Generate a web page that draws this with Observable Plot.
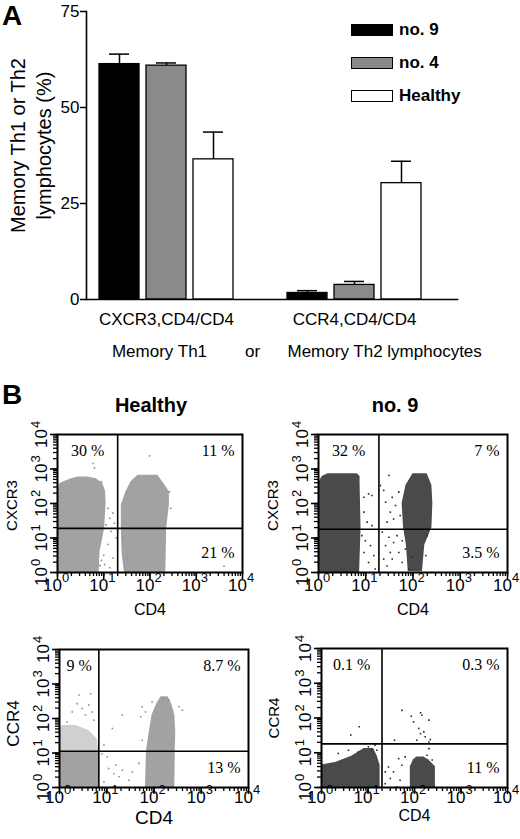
<!DOCTYPE html>
<html>
<head>
<meta charset="utf-8">
<script src="https://cdn.jsdelivr.net/npm/d3@7"></script>
<script src="https://cdn.jsdelivr.net/npm/@observablehq/plot@0.6"></script>
<style>
  body { margin: 0; background: #fff; font-family: Arial, "Liberation Sans", Helvetica, sans-serif; }
  #fig { position: relative; width: 520px; height: 839px; overflow: hidden; }
  .tag { font-weight: bold; font-size: 28px; line-height: 32px; }
  .legend { width: 150px; height: 90px; }
  .legend-row { position: absolute; left: 0; display: flex; align-items: center; height: 14px; white-space: nowrap; }
  .legend-row .sw { width: 40px; height: 10px; border: 1.5px solid #000; flex: none; }
  .legend-row span { margin-left: 6px; font-weight: bold; font-size: 17px; }
</style>
</head>
<body>
<div id="fig"></div>
<script>
// ---- panel A : bar chart ----
const series = ["no. 9", "no. 4", "Healthy"];
const seriesColors = ["#000000", "#8a8a8a", "#ffffff"];
const groups = ["CXCR3,CD4/CD4", "CCR4,CD4/CD4"];
const meanNo9 = [61.3, 1.7];
const meanNo4 = [60.9, 3.8];
const meanHealthy = [36.5, 30.3];
const semNo9 = [2.6, 0.6];
const semNo4 = [0.7, 0.9];
const semHealthy = [7.1, 5.7];
const yTicks = [0, 25, 50, 75];
const yTitle = "Memory Th1 or Th2\nlymphocytes (%)";
const subGroupText = ["Memory Th1", "or", "Memory Th2 lymphocytes"];

// ---- panel B : cytograms (log10 units) ----
const decades = [0, 1, 2, 3, 4];
const cytoTitles = ["Healthy", "no. 9"];
const cytoMarkers = ["CXCR3", "CXCR3", "CCR4", "CCR4"];
const cytoAxisX = "CD4";
const healthyCxcr3Pct = ["30 %", "11 %", "21 %"];
const no9Cxcr3Pct = ["32 %", "7 %", "3.5 %"];
const healthyCcr4Pct = ["9 %", "8.7 %", "13 %"];
const no9Ccr4Pct = ["0.1 %", "0.3 %", "11 %"];
const cytoGateCd4 = [20, 19, 6.8, 20];
const cytoGateMarker = [19, 18, 11.2, 18];

// clouds: [id, y, xLeft, xRight]
const healthyCxcr3Clouds = [
  ["L", 0, 0, 0.9], ["L", 0.6, 0, 0.92], ["L", 1.0, 0, 0.98], ["L", 1.3, 0, 1.02], ["L", 2.0, 0, 1.05],
  ["L", 2.35, 0, 1.04], ["L", 2.58, 0.05, 0.98], ["L", 2.72, 0.3, 0.84], ["L", 2.77, 0.45, 0.65],
  ["R", 0, 1.45, 2.34], ["R", 0.5, 1.4, 2.35], ["R", 1.27, 1.38, 2.36], ["R", 1.96, 1.38, 2.42],
  ["R", 2.34, 1.48, 2.42], ["R", 2.63, 1.59, 2.27], ["R", 2.82, 1.74, 2.17]
];
const no9Cxcr3Clouds = [
  ["L", 0, 0, 0.87], ["L", 1.26, 0, 0.9], ["L", 2.6, 0, 0.88], ["L", 2.78, 0.08, 0.88], ["L", 2.86, 0.2, 0.82],
  ["R", 0.02, 1.9, 2.2], ["R", 0.8, 1.86, 2.25], ["R", 1.3, 1.8, 2.4], ["R", 2.0, 1.77, 2.42],
  ["R", 2.52, 1.85, 2.4], ["R", 2.86, 2.0, 2.3]
];
const healthyCcr4Clouds = [
  ["L", 0, 0, 0.83], ["L", 1.05, 0, 0.83],
  ["R", 0, 1.82, 2.44], ["R", 1.05, 1.84, 2.45], ["R", 1.6, 1.9, 2.46], ["R", 2.1, 1.96, 2.44],
  ["R", 2.4, 2.05, 2.38], ["R", 2.63, 2.15, 2.3]
];
const healthyCcr4Haze = [["U", 1.05, 0, 0.83], ["U", 1.4, 0, 0.8], ["U", 1.65, 0, 0.62], ["U", 1.8, 0.05, 0.35]];
const no9Ccr4Clouds = [
  ["L", 0, 0, 1.26], ["L", 0.65, 0, 1.26], ["L", 0.72, 0.3, 1.24], ["L", 0.9, 0.65, 1.2], ["L", 1.12, 0.92, 1.12],
  ["R", 0, 1.91, 2.45], ["R", 0.6, 1.91, 2.45], ["R", 0.8, 1.98, 2.3], ["R", 0.88, 2.05, 2.2]
];

// single events: [x, y]
const healthyCxcr3Dots = [
  [1.09, 1.86], [1.2, 1.72], [1.13, 1.57], [1.23, 1.43], [1.05, 1.38], [1.16, 1.19], [1.27, 1.0], [1.09, 0.81],
  [1.2, 0.42], [1.13, 0.14], [1.02, 0.23], [0.77, 3.16], [0.8, 3.03], [1.99, 3.38], [3.6, 0.18], [2.42, 2.34],
  [2.45, 1.86], [1.41, 1.0], [1.52, 0.42], [1.45, 0.14], [0.95, 2.63], [0.95, 0.35], [0.92, 0.2], [1.0, 0.5]
];
const no9Cxcr3Dots = [
  [0.96, 2.18], [1.06, 2.28], [1.13, 2.23], [0.96, 1.75], [1.03, 1.46], [1.13, 1.36], [0.92, 1.07], [0.99, 0.92],
  [1.1, 0.78], [0.96, 0.58], [1.17, 0.49], [1.06, 0.29], [1.2, 0.1], [1.31, 2.52], [1.38, 2.38], [1.49, 2.81],
  [1.42, 2.04], [1.56, 2.18], [1.63, 1.94], [1.52, 1.75], [1.7, 2.33], [1.59, 1.55], [1.45, 1.46], [1.73, 1.65],
  [1.35, 1.17], [1.49, 1.02], [1.42, 0.78], [1.59, 0.87], [1.7, 0.58], [1.56, 0.39], [1.45, 0.19], [1.77, 0.29],
  [1.84, 0.68], [1.66, 1.07], [1.98, 0.44], [1.91, 0.1], [1.77, 0.92], [1.52, 0.58], [1.38, 0.39], [2.3, 1.07],
  [2.27, 0.49]
];
const healthyCcr4Dots = [
  [0.41, 2.68], [0.37, 2.43], [0.48, 2.29], [0.62, 2.39], [0.69, 2.19], [0.27, 2.19], [0.55, 2.1], [0.16, 1.9],
  [0.73, 1.95], [0.66, 2.72], [0.9, 0.98], [1.01, 0.89], [1.19, 0.65], [1.33, 0.5], [1.15, 0.4], [1.26, 0.31],
  [1.54, 0.45], [1.47, 0.21], [1.04, 0.55], [1.68, 0.7], [0.94, 0.16], [1.12, 1.71], [1.33, 2.1], [1.75, 2.34],
  [1.75, 1.37], [1.82, 2.19], [1.96, 2.48], [2.18, 2.58], [2.32, 2.53], [2.53, 2.34], [2.6, 2.24], [1.72, 2.05],
  [0.94, 1.23]
];
const no9Ccr4Dots = [
  [1.73, 2.22], [1.93, 2.05], [2.13, 2.15], [2.16, 2.08], [2.31, 1.94], [1.98, 1.89], [2.09, 1.7], [2.2, 1.6],
  [2.13, 1.55], [2.23, 1.46], [2.05, 1.36], [2.34, 1.38], [1.57, 1.36], [2.31, 1.31], [0.81, 1.75], [0.63, 1.51],
  [1.44, 0.59], [1.55, 0.45], [1.66, 0.83], [1.73, 0.64], [1.48, 0.26], [1.69, 0.21], [1.37, 0.11], [1.8, 0.88],
  [1.37, 0.45], [1.62, 0.02], [1.08, 1.07], [1.01, 1.17], [0.58, 1.07], [0.36, 0.98], [0.79, 1.02], [1.19, 1.07],
  [1.15, 1.22], [2.31, 1.12], [2.27, 0.93], [2.38, 0.79]
];

const sans = "Arial, 'Liberation Sans', Helvetica, sans-serif";
const serif = "'Times New Roman', 'Liberation Serif', Times, serif";
const fig = document.getElementById("fig");

function place(el, left, top) {
  el.style.position = "absolute";
  el.style.left = left + "px";
  el.style.top = top + "px";
  fig.appendChild(el);
  return el;
}

// ---------- panel A ----------
const means = [meanNo9, meanNo4, meanHealthy];
const sems = [semNo9, semNo4, semHealthy];
const rows = groups.flatMap((g, i) => series.map((s, j) => ({
  key: g + "|" + s, group: g, series: s, value: means[j][i], err: sems[j][i]
})));
const xDomain = [...rows.slice(0, 3).map(d => d.key), "gap", ...rows.slice(3).map(d => d.key)];

const chartA = Plot.plot({
  width: 520,
  height: 370,
  marginTop: 11,
  marginRight: 63,
  marginBottom: 71,
  marginLeft: 86,
  style: {background: "none", fontFamily: sans, color: "black", overflow: "visible"},
  x: {domain: xDomain, range: [99, 421], paddingInner: 0.149, paddingOuter: 0, axis: null},
  y: {domain: [0, 75], axis: null},
  color: {domain: series, range: seriesColors},
  marks: [
    Plot.barY(rows, {x: "key", y: "value", fill: "series", stroke: "black", strokeWidth: 1.3}),
    Plot.ruleX(rows, {x: "key", y1: "value", y2: d => d.value + d.err, strokeWidth: 1.5}),
    Plot.tickY(rows, {x: "key", y: d => d.value + d.err, inset: 10, strokeWidth: 1.5}),
    Plot.axisY({ticks: yTicks, tickSize: 6, tickPadding: 1, fontSize: 17, label: null, strokeWidth: 1.5}),
    Plot.frame({anchor: "left", strokeWidth: 1.6}),
    Plot.frame({anchor: "bottom", strokeWidth: 1.6}),
    Plot.text([yTitle], {frameAnchor: "left", rotate: -90, dx: -57, dy: -10, fontSize: 20, lineHeight: 1.3,
      textAnchor: "middle", lineAnchor: "middle", text: d => d}),
    Plot.text(groups, {x: g => g + "|no. 4", y: 0, dy: 20, fontSize: 17, lineAnchor: "middle", text: d => d}),
    Plot.text([subGroupText[0]], {x: () => groups[0] + "|no. 4", y: 0, dx: -7, dy: 52, fontSize: 17, lineAnchor: "middle", text: d => d}),
    Plot.text([subGroupText[1]], {x: () => "gap", y: 0, dx: -8, dy: 52, fontSize: 17, lineAnchor: "middle", text: d => d}),
    Plot.text([subGroupText[2]], {x: () => groups[1] + "|no. 9", y: 0, dx: -20, dy: 52, fontSize: 17, lineAnchor: "middle",
      textAnchor: "start", text: d => d})
  ]
});
place(chartA, 0, 0);

// legend
const legend = document.createElement("div");
legend.className = "legend";
series.forEach((s, i) => {
  const row = document.createElement("div");
  row.className = "legend-row";
  row.style.top = (i * 33) + "px";
  row.innerHTML = `<div class="sw" style="background:${seriesColors[i]}"></div><span>${s}</span>`;
  legend.appendChild(row);
});
place(legend, 351, 23);

const tagA = document.createElement("div");
tagA.className = "tag";
tagA.textContent = "A";
place(tagA, 2, 0);

const tagB = document.createElement("div");
tagB.className = "tag";
tagB.textContent = "B";
place(tagB, 2, 379);

// ---------- panel B ----------
const lin = e => 10 ** e;
const minorTicks = d3.scaleLog().domain([1, 1e4]).ticks();
const majorTicks = decades.map(lin);

function cytogram(o) {
  const t = {fontFamily: sans, lineAnchor: "middle"};
  const pctText = {fontFamily: serif, fontSize: 16, lineAnchor: "middle", text: d => d};
  return Plot.plot({
    width: 260,
    height: o.height,
    marginTop: o.m[0],
    marginRight: o.m[1],
    marginBottom: o.m[2],
    marginLeft: o.m[3],
    style: {background: "none", fontFamily: sans, color: "black", overflow: "visible"},
    x: {type: "log", domain: [1, 1e4], axis: null},
    y: {type: "log", domain: [1, 1e4], axis: null},
    marks: [
      Plot.areaX(o.haze, {y: d => lin(d[1]), x1: d => lin(d[2]), x2: d => lin(d[3]), z: d => d[0], fill: o.ink, fillOpacity: 0.5, clip: true}),
      Plot.areaX(o.clouds, {y: d => lin(d[1]), x1: d => lin(d[2]), x2: d => lin(d[3]), z: d => d[0], fill: o.ink, clip: true}),
      Plot.dot(o.dots, {x: d => lin(d[0]), y: d => lin(d[1]), r: 0.9, symbol: "square", fill: o.dotInk, clip: true}),
      Plot.ruleX([o.gateX], {strokeWidth: 1.6}),
      Plot.ruleY([o.gateY], {strokeWidth: 1.6}),
      Plot.frame({strokeWidth: 2}),
      Plot.axisX({ticks: minorTicks, tickSize: 4, tickFormat: () => "", label: null, strokeWidth: 1.3}),
      Plot.axisX({ticks: majorTicks, tickSize: 7, tickFormat: () => "", label: null, strokeWidth: 1.6}),
      Plot.axisY({ticks: minorTicks, tickSize: 4, tickFormat: () => "", label: null, strokeWidth: 1.3}),
      Plot.axisY({ticks: majorTicks, tickSize: 7, tickFormat: () => "", label: null, strokeWidth: 1.6}),
      Plot.text(decades, {...t, x: d => lin(d), frameAnchor: "bottom", text: () => "10", dx: -5, dy: o.tickDy, fontSize: 17}),
      Plot.text(decades, {...t, x: d => lin(d), frameAnchor: "bottom", text: d => String(d), dx: 8, dy: o.tickDy - 8, fontSize: 13}),
      Plot.text(decades, {...t, y: d => lin(d), frameAnchor: "left", textAnchor: "middle", rotate: -90, text: () => "10", dx: -16, dy: 4, fontSize: 17}),
      Plot.text(decades, {...t, y: d => lin(d), frameAnchor: "left", textAnchor: "middle", rotate: -90, text: d => String(d), dx: -22, dy: -10, fontSize: 13}),
      Plot.text([o.marker], {...t, frameAnchor: "left", textAnchor: "middle", rotate: -90, dx: o.markerDx, dy: o.markerDy, fontSize: o.markerSize, text: d => d}),
      Plot.text([cytoAxisX], {...t, frameAnchor: "bottom", dy: o.cdDy, fontSize: o.cdSize, text: d => d}),
      Plot.text(o.title ? [o.title] : [], {...t, frameAnchor: "top", dx: o.titleDx, dy: -29, fontSize: 20, fontWeight: "bold", text: d => d}),
      Plot.text([o.pct[0]], {...pctText, x: () => Math.sqrt(o.gateX), frameAnchor: "top", dy: 16}),
      Plot.text([o.pct[1]], {...pctText, frameAnchor: "top-right", textAnchor: "end", dx: -8, dy: 16}),
      Plot.text([o.pct[2]], {...pctText, frameAnchor: "bottom-right", textAnchor: "end", dx: -8, dy: -20})
    ]
  });
}

const healthyInk = "#a2a2a2", healthyDot = "#8c8c8c";
const no9Ink = "#4a4a4a", no9Dot = "#2a2a2a";

place(cytogram({
  height: 235, m: [49, 18, 48, 57], title: cytoTitles[0], titleDx: 1,
  clouds: healthyCxcr3Clouds, haze: [], dots: healthyCxcr3Dots, ink: healthyInk, dotInk: healthyDot,
  gateX: cytoGateCd4[0], gateY: cytoGateMarker[0], pct: healthyCxcr3Pct,
  marker: cytoMarkers[0], markerDx: -45, markerDy: 2, markerSize: 15,
  tickDy: 13, cdDy: 37, cdSize: 16
}), 0, 385);

place(cytogram({
  height: 235, m: [49, 13, 48, 58], title: cytoTitles[1], titleDx: -18,
  clouds: no9Cxcr3Clouds, haze: [], dots: no9Cxcr3Dots, ink: no9Ink, dotInk: no9Dot,
  gateX: cytoGateCd4[1], gateY: cytoGateMarker[1], pct: no9Cxcr3Pct,
  marker: cytoMarkers[1], markerDx: -45, markerDy: 2, markerSize: 15,
  tickDy: 13, cdDy: 37, cdSize: 16
}), 260, 385);

place(cytogram({
  height: 219, m: [29, 12, 52, 59],
  clouds: healthyCcr4Clouds, haze: healthyCcr4Haze, dots: healthyCcr4Dots, ink: healthyInk, dotInk: healthyDot,
  gateX: cytoGateCd4[2], gateY: cytoGateMarker[2], pct: healthyCcr4Pct,
  marker: cytoMarkers[2], markerDx: -46, markerDy: 5, markerSize: 17,
  tickDy: 10, cdDy: 30, cdSize: 19
}), 0, 620);

place(cytogram({
  height: 219, m: [28, 13, 52, 61],
  clouds: no9Ccr4Clouds, haze: [], dots: no9Ccr4Dots, ink: no9Ink, dotInk: no9Dot,
  gateX: cytoGateCd4[3], gateY: cytoGateMarker[3], pct: no9Ccr4Pct,
  marker: cytoMarkers[3], markerDx: -47, markerDy: 0, markerSize: 15,
  tickDy: 10, cdDy: 28, cdSize: 16
}), 260, 620);
</script>
</body>
</html>
